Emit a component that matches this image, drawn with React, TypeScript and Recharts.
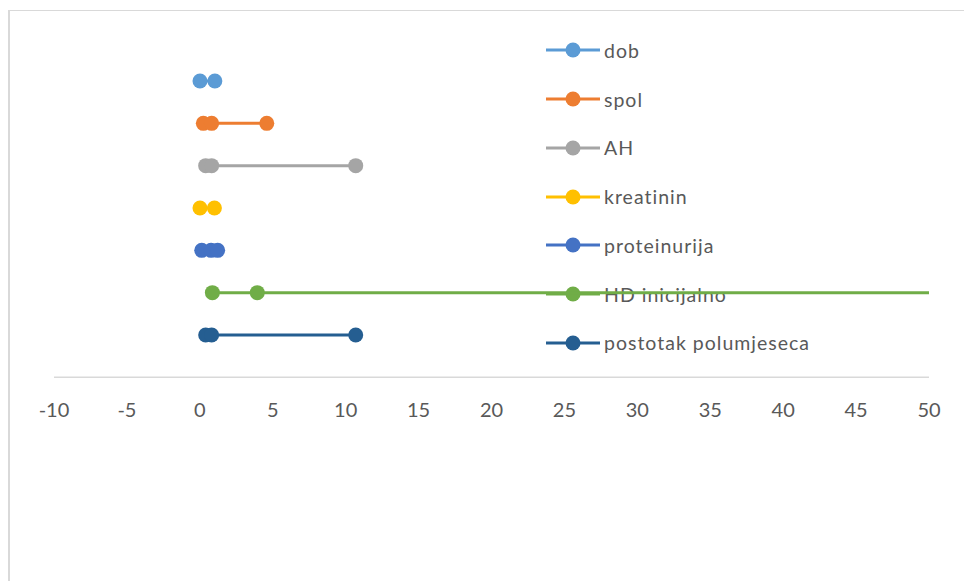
import React from "react";
import { ScatterChart, Scatter, XAxis, YAxis, Legend } from "recharts";

// ─── Data ─────────────────────────────────────────────────────────────────────

const names = ["dob", "spol", "AH", "kreatinin", "proteinurija", "HD inicijalno", "postotak polumjeseca"];
const colors = ["#5B9BD5", "#ED7D31", "#A5A5A5", "#FFC000", "#4472C4", "#70AD47", "#255E91"];
const rows = [7, 6, 5, 4, 3, 2, 1];

// x values per row (lower, estimate, upper)
const dob = [0.01, 1.03];
const spol = [0.24, 0.81, 4.59];
const ah = [0.4, 0.81, 10.69];
const kreatinin = [0.01, 1.0];
const proteinurija = [0.13, 0.77, 1.22];
const hdInicijalno = [0.86, 3.94, 62];
const postotak = [0.4, 0.81, 10.69];

const seriesX = [dob, spol, ah, kreatinin, proteinurija, hdInicijalno, postotak];
const xTicks = [-10, -5, 0, 5, 10, 15, 20, 25, 30, 35, 40, 45, 50];

const series = names.map((name, i) => ({
  name,
  color: colors[i],
  data: seriesX[i].map((x) => ({ x, y: rows[i] })),
}));

const textColor = "#595959";
const font = "Lato, 'Open Sans', sans-serif";

// ─── Legend ───────────────────────────────────────────────────────────────────

function SideLegend() {
  return (
    <div style={{ fontFamily: font }}>
      {series.map((s) => (
        <div key={s.name} style={{ display: "flex", alignItems: "center", height: 48.77 }}>
          <svg width={56} height={16} style={{ flex: "none" }}>
            <line x1={1} y1={8} x2={55} y2={8} stroke={s.color} strokeWidth={3} />
            <circle cx={28} cy={8} r={7.5} fill={s.color} />
          </svg>
          <span style={{ marginLeft: 3, fontSize: 19.5, letterSpacing: 1, color: textColor, whiteSpace: "nowrap" }}>
            {s.name}
          </span>
        </div>
      ))}
    </div>
  );
}

function Dot(props: any) {
  const { cx, cy, fill } = props;
  if (cx == null || cy == null) return null;
  return <circle cx={cx} cy={cy} r={7.5} fill={fill} />;
}

// ─── Chart ────────────────────────────────────────────────────────────────────

export default function App() {
  return (
    <div style={{ position: "fixed", left: 0, top: 0, width: 964, height: 581, background: "#fff", overflow: "hidden" }}>
      <div style={{
        position: "absolute", left: 8, top: 10, right: 0, bottom: 0,
        borderLeft: "2px solid #d9d9d9", borderTop: "1px solid #d9d9d9",
      }} />
      <ScatterChart
        width={964}
        height={581}
        margin={{ top: 38.67, right: 35, bottom: 173.67, left: 54 }}
      >
        <XAxis
          type="number"
          dataKey="x"
          domain={[-10, 50]}
          ticks={xTicks}
          allowDataOverflow
          tickLine={false}
          tickSize={0}
          tickMargin={25.5}
          height={30}
          axisLine={{ stroke: "#d9d9d9", strokeWidth: 1.5 }}
          tick={{ fill: textColor, fontSize: 20, fontFamily: font }}
          interval={0}
        />
        <YAxis type="number" dataKey="y" domain={[0, 8]} hide allowDataOverflow />
        <Legend
          layout="vertical"
          align="center"
          verticalAlign="middle"
          content={<SideLegend />}
          wrapperStyle={{ left: 545, top: 26, width: 340, zIndex: -1 }}
        />
        {series.map((s) => (
          <Scatter
            key={s.name}
            name={s.name}
            data={s.data}
            fill={s.color}
            line={{ stroke: s.color, strokeWidth: 3 }}
            shape={<Dot />}
            isAnimationActive={false}
          />
        ))}
      </ScatterChart>
    </div>
  );
}
